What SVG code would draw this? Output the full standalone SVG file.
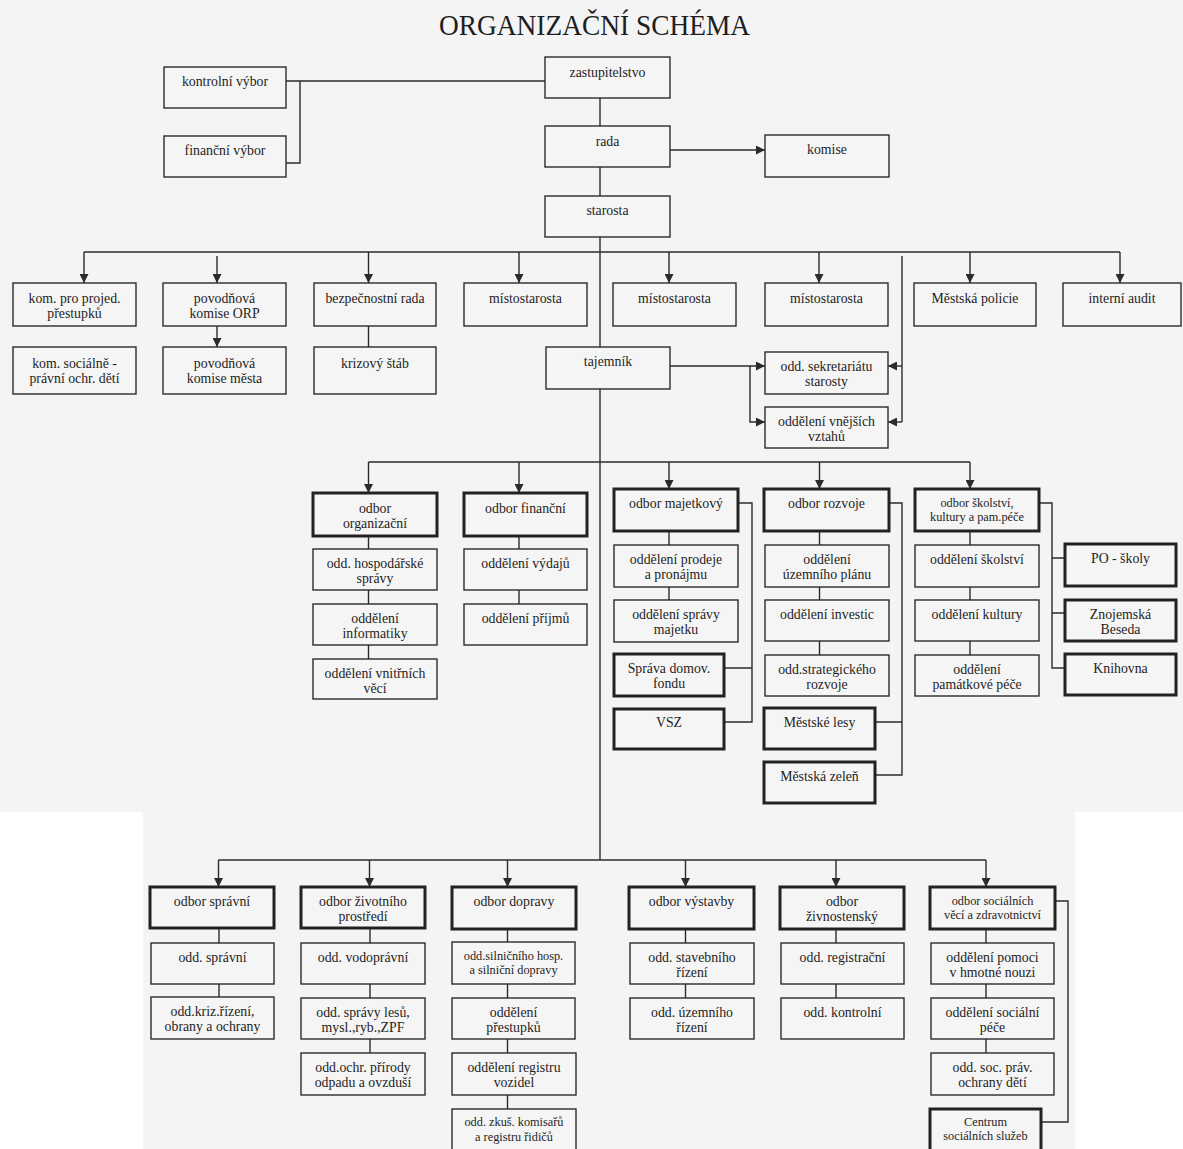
<svg xmlns="http://www.w3.org/2000/svg" width="1183" height="1149" viewBox="0 0 1183 1149">
<style>
.bg{fill:#ffffff}
.pg{fill:#f4f4f4}
.b{fill:#f5f5f5;stroke:#2b2b2b;stroke-width:1.4}
.k{fill:#f5f5f5;stroke:#222;stroke-width:3}
.t{font-family:"Liberation Serif","Times New Roman",serif;font-size:13.8px;fill:#1e1e1e;text-anchor:middle}
.s{font-family:"Liberation Serif","Times New Roman",serif;font-size:12.3px;fill:#1e1e1e;text-anchor:middle}
.h{font-family:"Liberation Serif","Times New Roman",serif;font-size:29px;fill:#1e1e1e}
.c{fill:none;stroke:#2b2b2b;stroke-width:1.4}
.a{fill:none;stroke:#2b2b2b;stroke-width:1.4;marker-end:url(#ah)}
</style>
<defs>
<marker id="ah" viewBox="0 0 10 10" refX="10" refY="5" markerWidth="9" markerHeight="9" markerUnits="userSpaceOnUse" orient="auto"><path d="M0,0 L10,5 L0,10 z" fill="#2b2b2b"/></marker>
</defs>
<rect class="bg" x="0" y="0" width="1183" height="1149"/>
<path class="pg" d="M0,0 H1183 V812 H1075 V1149 H143 V812 H0 Z"/>
<text class="h" x="439" y="35" textLength="311" lengthAdjust="spacingAndGlyphs">ORGANIZAČNÍ SCHÉMA</text>

<g id="connectors">
<path class="c" d="M600,98 V860"/>
<path class="c" d="M286,81 H545 M300,81 V163 H286"/>
<path class="a" d="M670,150 H765"/>
<path class="c" d="M84,252 H1120"/>
<path class="a" d="M84,252 V283"/>
<path class="a" d="M217,256 V283"/>
<path class="a" d="M368.5,252 V283"/>
<path class="a" d="M519,252 V283"/>
<path class="a" d="M669,252 V283"/>
<path class="a" d="M819,252 V283"/>
<path class="a" d="M970,252 V283"/>
<path class="a" d="M1120,252 V283"/>
<path class="a" d="M217,326 V347"/>
<path class="c" d="M368.5,326 V347"/>
<path class="a" d="M670,366 H765"/>
<path class="a" d="M750,366 V422 H765"/>
<path class="c" d="M902,256 V422"/>
<path class="a" d="M902,366 H888"/>
<path class="a" d="M902,422 H888"/>
<path class="c" d="M368.5,462 H970"/>
<path class="a" d="M368.5,462 V493"/>
<path class="a" d="M519,462 V493"/>
<path class="a" d="M669,462 V489"/>
<path class="a" d="M819.5,462 V489"/>
<path class="a" d="M970,462 V489"/>
<path class="c" d="M368.5,536 V659"/>
<path class="c" d="M519,536 V604"/>
<path class="c" d="M669,531 V600"/>
<path class="c" d="M819.5,531 V655"/>
<path class="c" d="M970,531 V655"/>
<path class="c" d="M738,503 H752 V722 H724 M752,668 H724"/>
<path class="c" d="M889,503 H902 V775 H875 M902,722 H875"/>
<path class="c" d="M1039,503 H1052 V668 H1065 M1052,558 H1065 M1052,613 H1065"/>
<path class="c" d="M218.5,860 H986"/>
<path class="a" d="M218.5,860 V887"/>
<path class="a" d="M369.5,860 V887"/>
<path class="a" d="M507.5,860 V887"/>
<path class="a" d="M685.5,860 V887"/>
<path class="a" d="M836,860 V887"/>
<path class="a" d="M986,860 V887"/>
<path class="c" d="M219,928 V997"/>
<path class="c" d="M370,928 V1053"/>
<path class="c" d="M507.5,929 V1109"/>
<path class="c" d="M685.5,929 V998"/>
<path class="c" d="M836,929 V998"/>
<path class="c" d="M986,929 V1053"/>
<path class="c" d="M1055,901 H1068 V1122 H1041"/>
</g>

<g id="kontrolni-vybor"><rect class="b" x="164" y="67" width="122" height="41"/><text class="t" x="225" y="86">kontrolní výbor</text></g>
<g id="financni-vybor"><rect class="b" x="164" y="136" width="122" height="41"/><text class="t" x="225" y="155">finanční výbor</text></g>
<g id="zastupitelstvo"><rect class="b" x="545" y="57" width="125" height="41"/><text class="t" x="607.5" y="77">zastupitelstvo</text></g>
<g id="rada"><rect class="b" x="545" y="126" width="125" height="41"/><text class="t" x="607.5" y="146">rada</text></g>
<g id="komise"><rect class="b" x="765" y="135" width="124" height="42"/><text class="t" x="827" y="154">komise</text></g>
<g id="starosta"><rect class="b" x="545" y="196" width="125" height="41"/><text class="t" x="607.5" y="215">starosta</text></g>

<g id="kom-projed"><rect class="b" x="13" y="283" width="123" height="43"/><text class="t" x="74.5" y="303">kom. pro projed.<tspan x="74.5" y="318">přestupků</tspan></text></g>
<g id="povodnova-orp"><rect class="b" x="163" y="283" width="123" height="43"/><text class="t" x="224.5" y="303">povodňová<tspan x="224.5" y="318">komise ORP</tspan></text></g>
<g id="bezpecnostni-rada"><rect class="b" x="314" y="283" width="122" height="43"/><text class="t" x="375" y="303">bezpečnostní rada</text></g>
<g id="mistostarosta-1"><rect class="b" x="464" y="283" width="123" height="43"/><text class="t" x="525.5" y="303">místostarosta</text></g>
<g id="mistostarosta-2"><rect class="b" x="613" y="283" width="123" height="43"/><text class="t" x="674.5" y="303">místostarosta</text></g>
<g id="mistostarosta-3"><rect class="b" x="765" y="283" width="123" height="43"/><text class="t" x="826.5" y="303">místostarosta</text></g>
<g id="mestska-policie"><rect class="b" x="914" y="283" width="122" height="43"/><text class="t" x="975" y="303">Městská policie</text></g>
<g id="interni-audit"><rect class="b" x="1063" y="283" width="118" height="43"/><text class="t" x="1122" y="303">interní audit</text></g>

<g id="kom-socialne"><rect class="b" x="13" y="347" width="123" height="47"/><text class="t" x="74.5" y="368">kom. sociálně -<tspan x="74.5" y="383">právní ochr. dětí</tspan></text></g>
<g id="povodnova-mesta"><rect class="b" x="163" y="347" width="123" height="47"/><text class="t" x="224.5" y="368">povodňová<tspan x="224.5" y="383">komise města</tspan></text></g>
<g id="krizovy-stab"><rect class="b" x="314" y="347" width="122" height="47"/><text class="t" x="375" y="368">krizový štáb</text></g>
<g id="tajemnik"><rect class="b" x="546" y="347" width="124" height="42"/><text class="t" x="608" y="366">tajemník</text></g>
<g id="odd-sekretariatu"><rect class="b" x="765" y="352" width="123" height="42"/><text class="t" x="826.5" y="371">odd. sekretariátu<tspan x="826.5" y="386">starosty</tspan></text></g>
<g id="odd-vnejsich-vztahu"><rect class="b" x="765" y="407" width="123" height="41"/><text class="t" x="826.5" y="426">oddělení vnějších<tspan x="826.5" y="441">vztahů</tspan></text></g>

<g id="odbor-organizacni"><rect class="k" x="313" y="493" width="124" height="43"/><text class="t" x="375" y="513">odbor<tspan x="375" y="528">organizační</tspan></text></g>
<g id="odd-hospodarske-spravy"><rect class="b" x="313" y="549" width="124" height="41"/><text class="t" x="375" y="568">odd. hospodářské<tspan x="375" y="583">správy</tspan></text></g>
<g id="odd-informatiky"><rect class="b" x="313" y="604" width="124" height="41"/><text class="t" x="375" y="623">oddělení<tspan x="375" y="638">informatiky</tspan></text></g>
<g id="odd-vnitrnich-veci"><rect class="b" x="313" y="659" width="124" height="40"/><text class="t" x="375" y="678">oddělení vnitřních<tspan x="375" y="693">věcí</tspan></text></g>

<g id="odbor-financni"><rect class="k" x="464" y="493" width="123" height="43"/><text class="t" x="525.5" y="513">odbor finanční</text></g>
<g id="odd-vydaju"><rect class="b" x="464" y="549" width="123" height="41"/><text class="t" x="525.5" y="568">oddělení výdajů</text></g>
<g id="odd-prijmu"><rect class="b" x="464" y="604" width="123" height="41"/><text class="t" x="525.5" y="623">oddělení příjmů</text></g>

<g id="odbor-majetkovy"><rect class="k" x="614" y="489" width="124" height="42"/><text class="t" x="676" y="508">odbor majetkový</text></g>
<g id="odd-prodeje"><rect class="b" x="614" y="545" width="124" height="42"/><text class="t" x="676" y="564">oddělení prodeje<tspan x="676" y="579">a pronájmu</tspan></text></g>
<g id="odd-spravy-majetku"><rect class="b" x="614" y="600" width="124" height="42"/><text class="t" x="676" y="619">oddělení správy<tspan x="676" y="634">majetku</tspan></text></g>
<g id="sprava-domov-fondu"><rect class="k" x="614" y="654" width="110" height="42"/><text class="t" x="669" y="673">Správa domov.<tspan x="669" y="688">fondu</tspan></text></g>
<g id="vsz"><rect class="k" x="614" y="709" width="110" height="40"/><text class="t" x="669" y="727">VSZ</text></g>

<g id="odbor-rozvoje"><rect class="k" x="764" y="489" width="125" height="42"/><text class="t" x="826.5" y="508">odbor rozvoje</text></g>
<g id="odd-uzemniho-planu"><rect class="b" x="765" y="545" width="124" height="42"/><text class="t" x="827" y="564">oddělení<tspan x="827" y="579">územního plánu</tspan></text></g>
<g id="odd-investic"><rect class="b" x="765" y="600" width="124" height="41"/><text class="t" x="827" y="619">oddělení investic</text></g>
<g id="odd-strategickeho"><rect class="b" x="765" y="655" width="124" height="41"/><text class="t" x="827" y="674">odd.strategického<tspan x="827" y="689">rozvoje</tspan></text></g>
<g id="mestske-lesy"><rect class="k" x="764" y="708" width="111" height="41"/><text class="t" x="819.5" y="727">Městské lesy</text></g>
<g id="mestska-zelen"><rect class="k" x="764" y="762" width="111" height="41"/><text class="t" x="819.5" y="781">Městská zeleň</text></g>

<g id="odbor-skolstvi"><rect class="k" x="915" y="489" width="124" height="42"/><text class="s" x="977" y="506.5">odbor školství,<tspan x="977" y="520.5">kultury a pam.péče</tspan></text></g>
<g id="odd-skolstvi"><rect class="b" x="915" y="545" width="124" height="42"/><text class="t" x="977" y="564">oddělení školství</text></g>
<g id="odd-kultury"><rect class="b" x="915" y="600" width="124" height="41"/><text class="t" x="977" y="619">oddělení kultury</text></g>
<g id="odd-pamatkove-pece"><rect class="b" x="915" y="655" width="124" height="41"/><text class="t" x="977" y="674">oddělení<tspan x="977" y="689">památkové péče</tspan></text></g>
<g id="po-skoly"><rect class="k" x="1065" y="544" width="111" height="42"/><text class="t" x="1120.5" y="563">PO - školy</text></g>
<g id="znojemska-beseda"><rect class="k" x="1065" y="600" width="111" height="41"/><text class="t" x="1120.5" y="619">Znojemská<tspan x="1120.5" y="634">Beseda</tspan></text></g>
<g id="knihovna"><rect class="k" x="1065" y="654" width="111" height="41"/><text class="t" x="1120.5" y="673">Knihovna</text></g>

<g id="odbor-spravni"><rect class="k" x="150" y="887" width="124" height="41"/><text class="t" x="212" y="906">odbor správní</text></g>
<g id="odd-spravni"><rect class="b" x="151" y="943" width="123" height="41"/><text class="t" x="212.5" y="962">odd. správní</text></g>
<g id="odd-kriz-rizeni"><rect class="b" x="151" y="997" width="123" height="42"/><text class="t" x="212.5" y="1016">odd.kriz.řízení,<tspan x="212.5" y="1031">obrany a ochrany</tspan></text></g>

<g id="odbor-zivotniho-prostredi"><rect class="k" x="301" y="887" width="124" height="41"/><text class="t" x="363" y="906">odbor životního<tspan x="363" y="921">prostředí</tspan></text></g>
<g id="odd-vodopravni"><rect class="b" x="301" y="943" width="124" height="41"/><text class="t" x="363" y="962">odd. vodoprávní</text></g>
<g id="odd-spravy-lesu"><rect class="b" x="301" y="998" width="124" height="41"/><text class="t" x="363" y="1017">odd. správy lesů,<tspan x="363" y="1032">mysl.,ryb.,ZPF</tspan></text></g>
<g id="odd-ochr-prirody"><rect class="b" x="301" y="1053" width="124" height="42"/><text class="t" x="363" y="1072">odd.ochr. přírody<tspan x="363" y="1087">odpadu a ovzduší</tspan></text></g>

<g id="odbor-dopravy"><rect class="k" x="452" y="887" width="124" height="42"/><text class="t" x="514" y="906">odbor dopravy</text></g>
<g id="odd-silnicniho"><rect class="b" x="452" y="942" width="123" height="42"/><text class="s" x="513.5" y="960">odd.silničního hosp.<tspan x="513.5" y="974">a silniční dopravy</tspan></text></g>
<g id="odd-prestupku"><rect class="b" x="452" y="998" width="123" height="41"/><text class="t" x="513.5" y="1017">oddělení<tspan x="513.5" y="1032">přestupků</tspan></text></g>
<g id="odd-registru-vozidel"><rect class="b" x="452" y="1053" width="124" height="42"/><text class="t" x="514" y="1072">oddělení registru<tspan x="514" y="1087">vozidel</tspan></text></g>
<g id="odd-zkus-komisaru"><rect class="b" x="452" y="1109" width="124" height="44"/><text class="s" x="514" y="1126">odd. zkuš. komisařů<tspan x="514" y="1141">a registru řidičů</tspan></text></g>

<g id="odbor-vystavby"><rect class="k" x="629" y="887" width="125" height="42"/><text class="t" x="691.5" y="906">odbor výstavby</text></g>
<g id="odd-stavebniho-rizeni"><rect class="b" x="630" y="943" width="124" height="41"/><text class="t" x="692" y="962">odd. stavebního<tspan x="692" y="977">řízení</tspan></text></g>
<g id="odd-uzemniho-rizeni"><rect class="b" x="630" y="998" width="124" height="41"/><text class="t" x="692" y="1017">odd. územního<tspan x="692" y="1032">řízení</tspan></text></g>

<g id="odbor-zivnostensky"><rect class="k" x="780" y="887" width="124" height="42"/><text class="t" x="842" y="906">odbor<tspan x="842" y="921">živnostenský</tspan></text></g>
<g id="odd-registracni"><rect class="b" x="781" y="943" width="123" height="41"/><text class="t" x="842.5" y="962">odd. registrační</text></g>
<g id="odd-kontrolni"><rect class="b" x="781" y="998" width="123" height="41"/><text class="t" x="842.5" y="1017">odd. kontrolní</text></g>

<g id="odbor-socialnich"><rect class="k" x="930" y="887" width="125" height="42"/><text class="s" x="992.5" y="905">odbor sociálních<tspan x="992.5" y="919">věcí a zdravotnictví</tspan></text></g>
<g id="odd-pomoci"><rect class="b" x="931" y="943" width="123" height="41"/><text class="t" x="992.5" y="962">oddělení pomoci<tspan x="992.5" y="977">v hmotné nouzi</tspan></text></g>
<g id="odd-socialni-pece"><rect class="b" x="931" y="998" width="123" height="41"/><text class="t" x="992.5" y="1017">oddělení sociální<tspan x="992.5" y="1032">péče</tspan></text></g>
<g id="odd-soc-prav"><rect class="b" x="931" y="1053" width="123" height="42"/><text class="t" x="992.5" y="1072">odd. soc. práv.<tspan x="992.5" y="1087">ochrany dětí</tspan></text></g>
<g id="centrum-socialnich-sluzeb"><rect class="k" x="930" y="1109" width="111" height="44"/><text class="s" x="985.5" y="1126">Centrum<tspan x="985.5" y="1140">sociálních služeb</tspan></text></g>
</svg>
